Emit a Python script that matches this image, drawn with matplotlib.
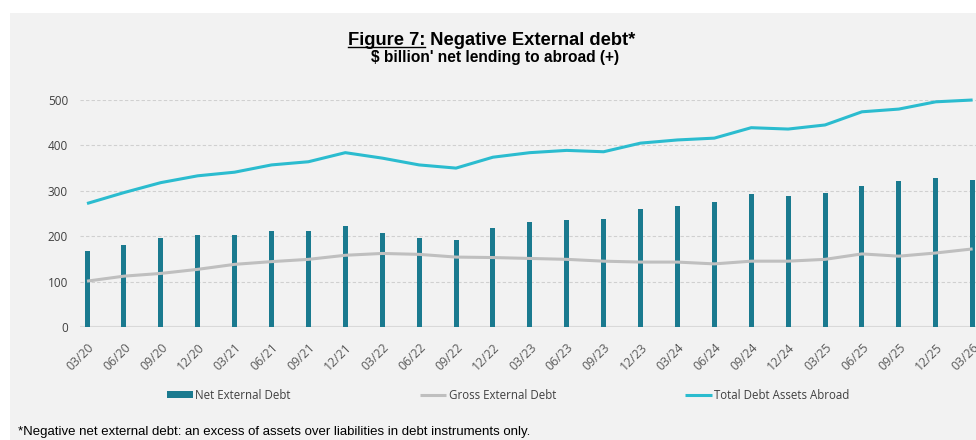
import matplotlib
matplotlib.use("Agg")
import matplotlib.pyplot as plt
from matplotlib.patches import Rectangle
import numpy as np

quarters = ["03/20", "06/20", "09/20", "12/20", "03/21", "06/21", "09/21", "12/21",
            "03/22", "06/22", "09/22", "12/22", "03/23", "06/23", "09/23", "12/23",
            "03/24", "06/24", "09/24", "12/24", "03/25", "06/25", "09/25", "12/25", "03/26"]
net_external_debt = [168, 181, 195, 203, 203, 212, 212, 222, 207, 195, 192, 218, 231, 236,
                     238, 260, 266, 275, 293, 288, 295, 310, 321, 328, 324]
gross_external_debt = [101, 112, 118, 127, 138, 144, 149, 158, 162, 160, 154, 153, 151, 149,
                       145, 143, 143, 139, 145, 145, 149, 161, 156, 163, 172]
total_debt_assets_abroad = [272, 296, 318, 333, 341, 357, 364, 384, 372, 357, 350, 374, 384,
                            389, 386, 405, 412, 416, 439, 436, 445, 474, 480, 496, 500]
y_ticks = [0, 100, 200, 300, 400, 500]

BG = "#f2f2f2"
BAR = "#1a7a8f"
GRAY = "#bfbfbf"
TEAL = "#2bbccf"

W, H = 976, 440
fig = plt.figure(figsize=(W / 100, H / 100), dpi=100)
fig.patch.set_facecolor("white")
fig.add_artist(Rectangle((10 / W, 0), 1, (H - 13) / H, transform=fig.transFigure,
                         facecolor=BG, edgecolor="none", zorder=-10))

x = np.arange(len(quarters))
spacing = 36.9
left_px, bottom_px, top_px = 80, 327, 100
xl0, xl1 = -0.19, 24.6
ax_w = (xl1 - xl0) * spacing
ax = fig.add_axes([left_px / W, (H - bottom_px) / H, ax_w / W, (bottom_px - top_px) / H])
ax.set_facecolor("none")
ax.set_xlim(xl0, xl1)
ax.set_ylim(0, 500)

h1 = ax.bar(x, net_external_debt, width=0.135, color=BAR, zorder=3, label="Net External Debt")
h2, = ax.plot(x, gross_external_debt, color=GRAY, lw=2.2, zorder=4, label="Gross External Debt",
              solid_capstyle="butt")
h3, = ax.plot(x, total_debt_assets_abroad, color=TEAL, lw=2.2, zorder=5,
              label="Total Debt Assets Abroad", clip_on=False, solid_capstyle="butt")

ax.set_yticks(y_ticks)
ax.grid(axis="y", color="#d0d0d0", linestyle=(0, (3, 2)), lw=0.8, zorder=0)
ax.axhline(0, color="#d9d9d9", lw=1.5, zorder=2)
for s in ax.spines.values():
    s.set_visible(False)
ax.tick_params(axis="both", length=0)
ax.tick_params(axis="y", labelsize=8.5, labelcolor="#404040", pad=8.6)
ax.set_yticklabels([str(v) for v in y_ticks], family="Open Sans")
ax.set_xticks(x)
ax.set_xticklabels(quarters, rotation=45, ha="right", rotation_mode="anchor",
                   fontsize=8.8, color="#595959", family="Open Sans")
ax.tick_params(axis="x", pad=10)

leg = fig.legend(handles=[h1, h2, h3], loc="center", bbox_to_anchor=(508 / W, (H - 395) / H),
                 ncol=3, frameon=False,
                 prop={"family": "Open Sans", "size": 8.3}, handlelength=2.3, handletextpad=0.2,
                 columnspacing=11.2, handleheight=0.6)
for t in leg.get_texts():
    t.set_color("#404040")

t1 = fig.text(348 / W, 1 - 45 / H, "Figure 7:", family="Liberation Sans", weight="bold",
              fontsize=13.2, ha="left", va="baseline", color="black")
fig.canvas.draw()
bb = t1.get_window_extent()
fig.add_artist(plt.Line2D([bb.x0 / W, bb.x1 / W], [(H - 47.5) / H, (H - 47.5) / H],
                          transform=fig.transFigure, color="black", lw=1))
fig.text(bb.x1 / W, 1 - 45 / H, " Negative External debt*", family="Liberation Sans",
         weight="bold", fontsize=13.2, ha="left", va="baseline", color="black")
fig.text(495 / W, 1 - 62 / H, "$ billion' net lending to abroad (+)", family="Liberation Sans",
         weight="bold", fontsize=11.2, ha="center", va="baseline", color="black")
fig.text(18 / W, 1 - 435 / H,
         "*Negative net external debt: an excess of assets over liabilities in debt instruments only.",
         family="Liberation Sans", fontsize=9.5, ha="left", va="baseline", color="black")

fig.savefig("out.png", dpi=100, facecolor=fig.get_facecolor())
